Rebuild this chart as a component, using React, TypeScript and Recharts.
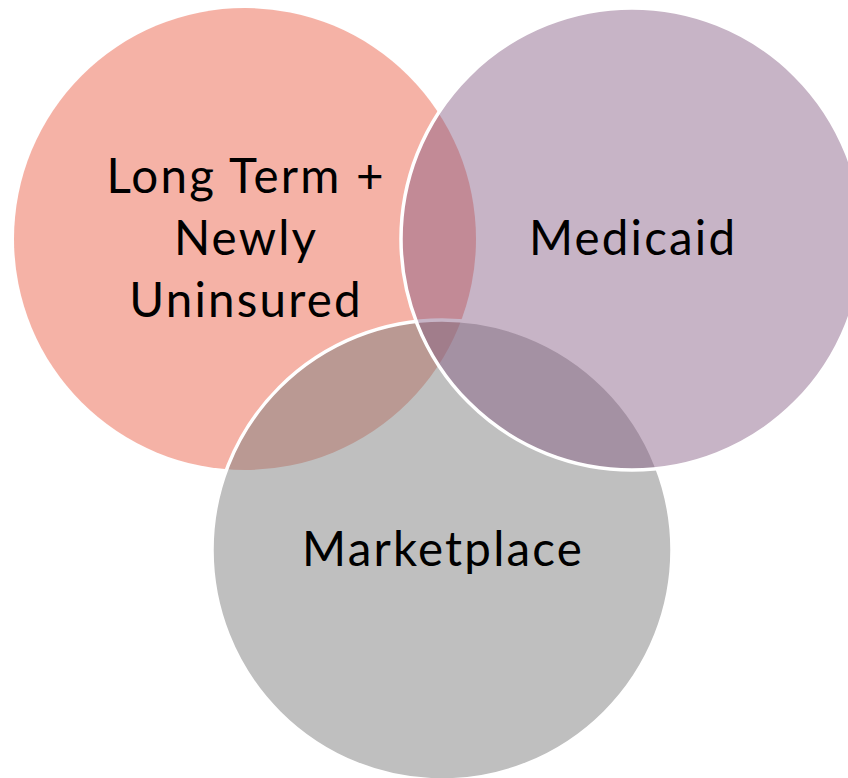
import { ScatterChart, Scatter, XAxis, YAxis } from 'recharts'

const CHART_W = 848
const CHART_H = 778

// set centres and radii, in the diagram's own units (one unit per pixel of the 848x778 frame)
const setNames = ['Long Term + Newly Uninsured', 'Marketplace', 'Medicaid']
const setLines = [['Long Term +', 'Newly', 'Uninsured'], ['Marketplace'], ['Medicaid']]
const centerX = [245, 442, 632]
const centerY = [239, 550, 239]
const setRadius = [231, 230, 231]

const fills = ['rgb(235,101,77)', 'rgb(127,127,127)', 'rgb(133,92,131)']
const opacities = [0.5, 0.5, 0.46]
const strokes = ['none', '#ffffff', '#ffffff']

const PX_PER_UNIT = CHART_W / 848
const FONT_SIZE = 47.5
const LETTER_SP = 2.2
const LINE_H = 62

function VennCircle(props: any) {
  const { cx, cy, payload, fill, stroke, opacity } = props
  const r = payload.r * PX_PER_UNIT
  const lines: string[] = payload.lines
  const first = cy - ((lines.length - 1) / 2) * LINE_H + FONT_SIZE * 0.34
  // letter-spacing trails the last glyph too, so nudge the anchor back by half of it
  const tx = cx + LETTER_SP / 2
  return (
    <g>
      <circle
        cx={cx}
        cy={cy}
        r={r}
        fill={fill}
        fillOpacity={opacity}
        stroke={stroke}
        strokeWidth={stroke === 'none' ? 0 : 3.5}
      />
      <text
        x={tx}
        y={first}
        textAnchor="middle"
        fontSize={FONT_SIZE}
        fontFamily="Lato, 'Open Sans', sans-serif"
        letterSpacing={LETTER_SP}
        fill="#000000"
      >
        {lines.map((l, i) => (
          <tspan key={i} x={tx} dy={i === 0 ? 0 : LINE_H}>
            {l}
          </tspan>
        ))}
      </text>
    </g>
  )
}

export default function App() {
  const series = setNames.map((name, i) => ({
    name,
    data: [{ x: centerX[i], y: centerY[i], r: setRadius[i], lines: setLines[i] }],
  }))

  return (
    <div style={{ position: 'absolute', left: 0, top: 0, background: '#fff' }}>
      <ScatterChart width={CHART_W} height={CHART_H} margin={{ top: 0, right: 0, bottom: 0, left: 0 }}>
        <XAxis type="number" dataKey="x" domain={[0, 848]} hide />
        <YAxis type="number" dataKey="y" domain={[0, 778]} reversed hide />
        {series.map((s, i) => (
          <Scatter
            key={s.name}
            name={s.name}
            data={s.data}
            isAnimationActive={false}
            shape={(p: any) => (
              <VennCircle {...p} fill={fills[i]} stroke={strokes[i]} opacity={opacities[i]} />
            )}
          />
        ))}
      </ScatterChart>
    </div>
  )
}
